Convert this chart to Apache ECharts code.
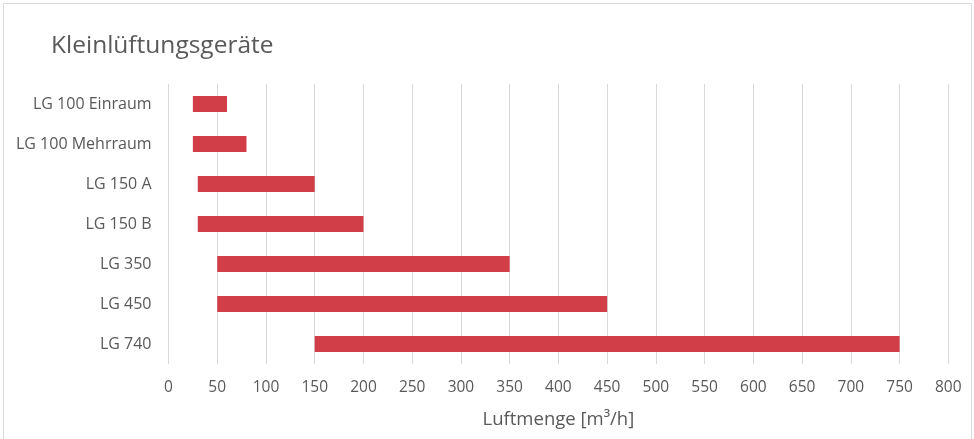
<!DOCTYPE html>
<html>
<head>
<meta charset="utf-8">
<script src="https://cdn.jsdelivr.net/npm/echarts@6/dist/echarts.min.js"></script>
<style>
html,body{margin:0;padding:0;background:#fff;}
#chart{width:974px;height:439px;}
</style>
</head>
<body>
<div id="chart"></div>
<script>
const categories = ['LG 100 Einraum', 'LG 100 Mehrraum', 'LG 150 A', 'LG 150 B', 'LG 350', 'LG 450', 'LG 740'];
const minAirflow = [25, 25, 30, 30, 50, 50, 150];
const maxAirflow = [60, 80, 150, 200, 350, 450, 750];
const chartTitle = 'Kleinlüftungsgeräte';
const axisTitle = 'Luftmenge [m³/h]';

const FONT = '"Open Sans", sans-serif';
const TEXT = '#595959';
const chart = echarts.init(document.getElementById('chart'), null, {renderer: 'canvas'});
chart.setOption({
  animation: false,
  backgroundColor: '#ffffff',
  textStyle: {fontFamily: FONT},
  title: {
    text: chartTitle,
    left: 46,
    top: 29,
    textStyle: {fontFamily: FONT, fontSize: 24.5, fontWeight: 'normal', color: TEXT}
  },
  graphic: [{
    type: 'rect',
    shape: {x: 3.5, y: 3.5, width: 968, height: 450},
    style: {fill: 'none', stroke: '#d9d9d9', lineWidth: 1},
    silent: true
  }],
  grid: {left: 168.5, right: 25.7, top: 84, bottom: 75, containLabel: false},
  xAxis: {
    type: 'value',
    min: 0, max: 800, interval: 50,
    name: axisTitle,
    nameLocation: 'middle',
    nameGap: 46,
    nameTextStyle: {fontFamily: FONT, fontSize: 18.5, color: TEXT},
    axisLine: {show: false},
    axisTick: {show: false},
    axisLabel: {fontFamily: FONT, fontSize: 15.5, color: TEXT, margin: 16},
    splitLine: {show: true, lineStyle: {color: '#d9d9d9', width: 1}}
  },
  yAxis: {
    type: 'category',
    data: categories,
    inverse: true,
    axisLine: {show: false},
    axisTick: {show: false},
    axisLabel: {fontFamily: FONT, fontSize: 16, color: TEXT, margin: 17},
    splitLine: {show: false}
  },
  series: [
    {
      type: 'bar', stack: 'range', silent: true,
      data: minAirflow,
      itemStyle: {color: 'transparent'},
      barWidth: '40%'
    },
    {
      type: 'bar', stack: 'range',
      data: maxAirflow.map((v, i) => v - minAirflow[i]),
      itemStyle: {color: '#d13e48'},
      barWidth: '40%'
    }
  ]
});
</script>
</body>
</html>
